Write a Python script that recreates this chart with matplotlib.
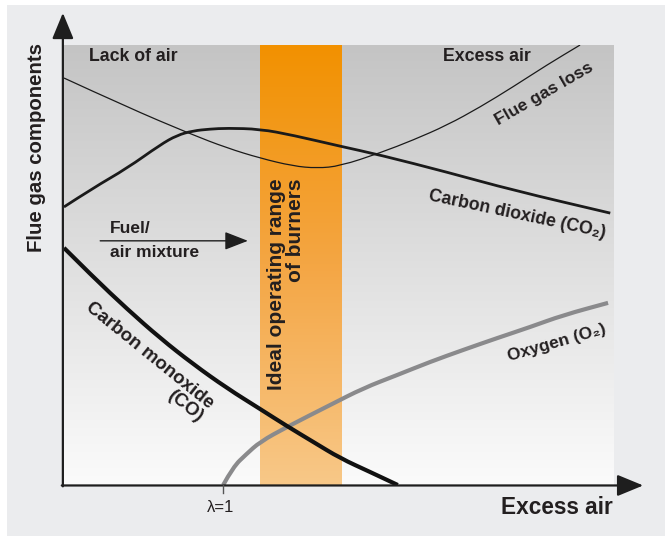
# Flue gas components vs excess air (burner operating range sketch)

import numpy as np
import matplotlib.pyplot as plt
from matplotlib.colors import LinearSegmentedColormap
from matplotlib.patches import FancyArrowPatch, Rectangle, PathPatch
from matplotlib.path import Path

plt.rcParams['font.family'] = ['Liberation Sans', 'DejaVu Sans']

# Curves, x = excess air, y = flue gas component (both 0-100)
flue_loss_x = [0, 11.5, 23.0, 29.7, 35.7, 41.7, 46.1, 50.3, 57.6, 63.6, 69.8, 75.8, 81.8, 88.0, 94.0]
flue_loss_y = [92.5, 85.9, 79.8, 76.6, 74.3, 72.5, 72.0, 72.5, 75.5, 78.4, 81.8, 85.9, 90.5, 95.5, 100]

co2_x = [0, 5.3, 11.5, 17.5, 20.6, 23.5, 26.6, 29.7, 35.7, 41.7, 50.3, 57.6, 69.8, 81.8, 99.5]
co2_y = [63.2, 67.5, 72.0, 77.3, 79.5, 80.5, 80.9, 81.1, 80.9, 79.5, 77.0, 75.0, 71.1, 67.0, 61.8]

co_x = [0, 5.3, 11.5, 17.5, 23.5, 29.7, 35.7, 40.6, 45.4, 50.3, 55.7, 60.8]
co_y = [53.9, 47.3, 40.0, 33.4, 27.5, 22.0, 17.3, 13.4, 9.8, 6.1, 3.0, 0]

o2_x = [29.0, 30.8, 33.2, 35.7, 40.6, 48.5, 54.5, 60.7, 66.7, 72.7, 78.9, 84.9, 90.9, 99.1]
o2_y = [0, 4.1, 7.0, 9.8, 13.2, 18.2, 22.0, 25.0, 28.0, 30.7, 33.4, 35.9, 38.6, 41.4]

lambda_one = 29.0          # stoichiometric point on the x axis
band = [35.7, 50.5]        # ideal operating range of burners

text_col = '#231f20'


# the drawing has smooth curves, so use the read points as quadratic bezier controls
def smooth_curve(xs, ys, **kw):
    pts = np.column_stack([xs, ys])
    verts = [pts[0]]
    codes = [Path.MOVETO]
    for i in range(1, len(pts) - 1):
        verts += [pts[i], (pts[i] + pts[i + 1]) / 2]
        codes += [Path.CURVE3, Path.CURVE3]
    verts.append(pts[-1])
    codes.append(Path.LINETO)
    return PathPatch(Path(verts, codes), fill=False, capstyle='butt', **kw)


fig = plt.figure(figsize=(6.65, 5.36), dpi=100)
fig.patch.set_facecolor('white')
# light grey panel behind everything
fig.patches.append(Rectangle((0.0105, 0), 0.99, 0.9907, transform=fig.transFigure,
                             facecolor='#ebecee', edgecolor='none', zorder=-10))

ax = fig.add_axes([0.0962, 0.0951, 0.8256, 0.8209])
ax.set_xlim(0, 100)
ax.set_ylim(0, 100)
ax.axis('off')

# grey gradient background (dark at top, white at bottom)
grad = np.linspace(0, 1, 256).reshape(-1, 1)
grey_cmap = LinearSegmentedColormap.from_list('g', ['#fbfbfb', '#c4c4c4'])
ax.imshow(grad, cmap=grey_cmap, extent=[0, 100, 0, 100], origin='lower', aspect='auto', zorder=0)

# orange band
orange_cmap = LinearSegmentedColormap.from_list('o', ['#f8c888', '#f4a644', '#f29100'])
ax.imshow(grad, cmap=orange_cmap, extent=[band[0], band[1], 0, 100], origin='lower',
          aspect='auto', zorder=1)

# curves
ax.add_patch(smooth_curve(flue_loss_x, flue_loss_y, edgecolor='#1a1a1a', lw=0.9, zorder=3))
ax.add_patch(smooth_curve(co2_x, co2_y, edgecolor='#1a1a1a', lw=2.0, zorder=3))
ax.add_patch(smooth_curve(o2_x, o2_y, edgecolor='#8a8a8c', lw=3.0, zorder=3))
ax.add_patch(smooth_curve(co_x, co_y, edgecolor='#111111', lw=3.0, zorder=4))

# axes drawn as arrows
arrow_style = '-|>,head_length=0.8,head_width=0.33'
ax.add_patch(FancyArrowPatch((-0.2, -0.3), (-0.2, 107.3), arrowstyle=arrow_style, mutation_scale=20,
                             lw=1.6, color='#1e1e1e', shrinkA=0, shrinkB=0, clip_on=False, zorder=5))
ax.add_patch(FancyArrowPatch((-0.4, -0.1), (105.5, -0.1), arrowstyle=arrow_style, mutation_scale=20,
                             lw=1.6, color='#1e1e1e', shrinkA=0, shrinkB=0, clip_on=False, zorder=5))

# lambda = 1 tick
ax.plot([lambda_one, lambda_one], [0, -1.9], color='#555555', lw=1.0, clip_on=False, zorder=5)
ax.text(lambda_one - 0.5, -5.2, 'λ=1', ha='center', va='center', fontsize=12, color=text_col)

# fuel/air mixture arrow
ax.add_patch(FancyArrowPatch((6.6, 55.5), (33.5, 55.5), arrowstyle='-|>,head_length=0.9,head_width=0.35',
                             mutation_scale=16, lw=1.0, color='#1e1e1e', shrinkA=0, shrinkB=0, zorder=5))
ax.text(8.4, 58.3, 'Fuel/', ha='left', va='center', fontsize=12.5, fontweight='bold', color=text_col)
ax.text(8.4, 52.8, 'air mixture', ha='left', va='center', fontsize=12.5, fontweight='bold', color=text_col)

# labels
ax.text(4.6, 97.3, 'Lack of air', ha='left', va='center', fontsize=12.8, fontweight='bold', color=text_col)
ax.text(69.0, 97.3, 'Excess air', ha='left', va='center', fontsize=12.8, fontweight='bold', color=text_col)
ax.text(87.4, 88.9, 'Flue gas loss', ha='center', va='center', rotation=30, rotation_mode='anchor',
        fontsize=12.5, fontweight='bold', color=text_col)
ax.text(82.6, 61.6, 'Carbon dioxide (CO₂)', ha='center', va='center', rotation=-12, rotation_mode='anchor',
        fontsize=12.8, fontweight='bold', color=text_col)
ax.text(89.8, 32.3, 'Oxygen (O₂)', ha='center', va='center', rotation=16, rotation_mode='anchor',
        fontsize=12.5, fontweight='bold', color=text_col)
ax.text(14.7, 28.0, 'Carbon monoxide\n(CO)', ha='center', va='center', rotation=-39, rotation_mode='anchor',
        multialignment='right', fontsize=13.5, fontweight='bold', color=text_col, linespacing=1.0)
ax.text(40.4, 45.7, 'Ideal operating range\nof burners', ha='center', va='center', rotation=90,
        multialignment='right', fontsize=15, fontweight='bold', color=text_col, linespacing=1.0, zorder=6)

ax.text(100, -5.2, 'Excess air', ha='right', va='center', fontsize=16.3, fontweight='bold', color=text_col)
fig.text(0.0556, 0.7239, 'Flue gas components', ha='center', va='center', rotation=90,
         fontsize=14.7, fontweight='bold', color=text_col)

plt.savefig('out.png', dpi=100)
